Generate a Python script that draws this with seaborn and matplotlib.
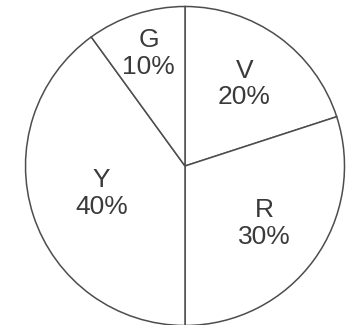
import matplotlib
matplotlib.use("Agg")
import matplotlib.pyplot as plt
import numpy as np
import seaborn as sns

categories = ["V", "R", "Y", "G"]
shares = [20, 30, 40, 10]

# label radius (fraction of pie radius) per wedge -- style only
label_radii = [0.635, 0.615, 0.55, 0.74]

sns.set_theme(style="white")
plt.rcParams["font.family"] = ["Liberation Sans", "DejaVu Sans"]

W, H = 348, 325
fig = plt.figure(figsize=(W / 100, H / 100), dpi=100)
cx, cy, r = 185, 166, 159.5
ax = fig.add_axes([(cx - r) / W, (H - cy - r) / H, 2 * r / W, 2 * r / H])

wedges, _ = ax.pie(
    shares,
    startangle=90,
    counterclock=False,
    colors=["white"] * len(shares),
    wedgeprops=dict(edgecolor="#4d4d4d", linewidth=1.1),
)

for w, cat, val, rad in zip(wedges, categories, shares, label_radii):
    ang = np.deg2rad((w.theta1 + w.theta2) / 2)
    ax.text(rad * np.cos(ang), rad * np.sin(ang), f"{cat}\n{val}%",
            ha="center", va="center", fontsize=19, color="#3a3a3a",
            linespacing=1.15)

ax.set_xlim(-1.0, 1.0)
ax.set_ylim(-1.0, 1.0)
ax.set_aspect("auto")
ax.axis("off")

fig.savefig("out.png", dpi=100, facecolor="white")
